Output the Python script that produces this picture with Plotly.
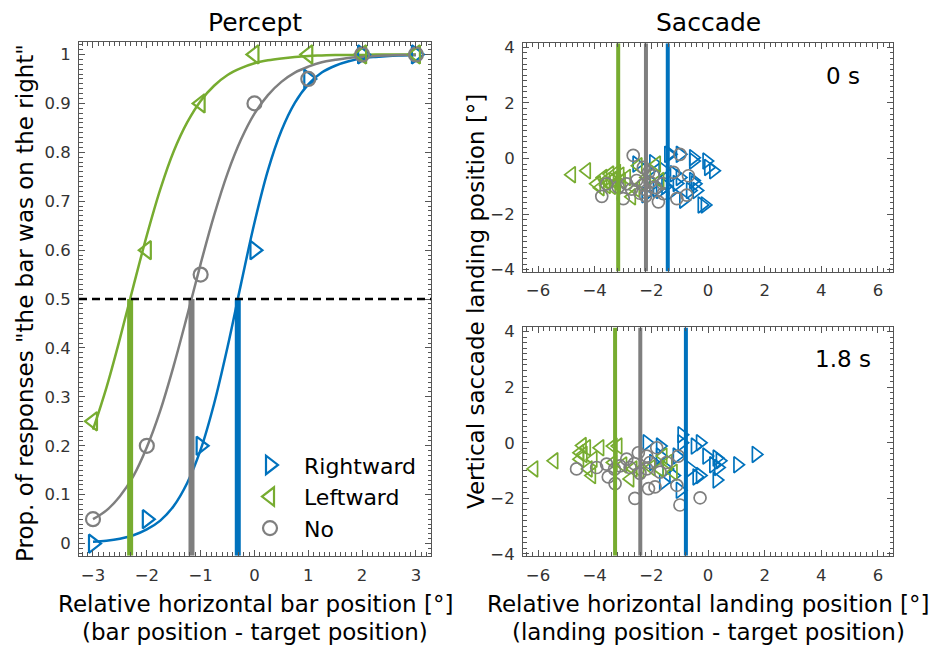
import plotly.graph_objects as go

# ---------------- data ----------------
bar_positions = [-3, -2, -1, 0, 1, 2, 3]
resp_rightward = [0.0, 0.05, 0.2, 0.6, 0.95, 1.0, 1.0]
resp_leftward = [0.25, 0.6, 0.9, 1.0, 1.0, 1.0, 1.0]
resp_no = [0.05, 0.2, 0.55, 0.9, 0.95, 1.0, 1.0]

fit_x = [-3, -2.75, -2.5, -2.25, -2, -1.75, -1.5, -1.25, -1, -0.75, -0.5, -0.25, 0,
         0.25, 0.5, 0.75, 1, 1.25, 1.5, 1.75, 2, 2.25, 2.5, 2.75, 3]
fit_rightward = [0.004, 0.006, 0.010, 0.017, 0.029, 0.047, 0.077, 0.124, 0.192, 0.286, 0.402, 0.531, 0.656,
                 0.763, 0.844, 0.901, 0.939, 0.963, 0.977, 0.986, 0.992, 0.995, 0.997, 0.998, 0.999]
fit_leftward = [0.233, 0.319, 0.419, 0.526, 0.630, 0.724, 0.802, 0.861, 0.905, 0.936, 0.958, 0.972, 0.982,
                0.988, 0.992, 0.995, 0.997, 0.998, 0.999, 0.999, 0.999, 1.0, 1.0, 1.0, 1.0]
fit_no = [0.05, 0.068, 0.097, 0.138, 0.197, 0.272, 0.364, 0.466, 0.572, 0.671, 0.757, 0.826, 0.879,
          0.917, 0.944, 0.963, 0.975, 0.984, 0.989, 0.993, 0.995, 0.997, 0.998, 0.999, 0.999]

pse_rightward = -0.31
pse_leftward = -2.31
pse_no = -1.17

# Saccade, 0 s
s0_right_x = [-1.34, -0.99, -0.52, -0.52, -0.05, 0.01, 0.19, -0.99, -0.52, -0.46, -0.40, -0.63, -0.11, -0.22,
              -2.52, -1.93, -1.40, -1.93, -1.69, -0.87, -2.10, -1.50, -1.30, -1.80, -2.20, -1.10, -1.60, -1.20]
s0_right_y = [0.15, 0.15, 0.03, -0.09, -0.09, -0.32, -0.44, -0.68, -0.79, -0.91, -1.15, -1.15, -1.67, -1.67,
              -0.20, -0.15, 0.15, -0.91, -1.15, -1.50, -0.45, -1.00, -1.20, -1.10, -1.30, -0.90, -0.40, -0.55]
s0_left_x = [-4.81, -4.28, -3.93, -3.70, -3.46, -3.22, -3.58, -3.22, -2.87, -2.69, -2.46, -1.81, -2.16, -1.69,
             -3.35, -3.05, -3.80, -2.55, -3.10, -3.60, -3.40, -2.30]
s0_left_y = [-0.58, -0.44, -0.91, -0.68, -0.56, -0.50, -0.97, -0.91, -0.68, -1.38, -0.26, -0.20, -0.68, -0.79,
             -0.75, -0.80, -1.05, -1.10, -0.60, -0.80, -1.00, -0.90]
s0_no_x = [-2.64, -0.99, -3.75, -3.58, -2.99, -1.75, -1.10, -0.69, -0.75, -1.22, -1.58, -1.93, -2.52, -2.87,
           -3.17, -2.28, -2.16, -2.30, -2.05, -2.40, -1.85, -2.70, -2.20, -1.60, -2.10]
s0_no_y = [0.11, 0.15, -1.36, -0.91, -1.44, -1.56, -1.44, -0.62, -1.32, -0.50, -1.26, -0.62, -0.79, -0.91,
           -1.03, -0.32, -1.15, -0.95, -0.85, -1.25, -1.05, -1.10, -1.35, -0.90, -0.50]
s0_mean_rightward = -1.42
s0_mean_leftward = -3.17
s0_mean_no = -2.19

# Saccade, 1.8 s
s18_right_x = [1.69, 1.04, 0.31, 0.36, 0.31, 0.19, 0.42, -0.05, -0.28, -0.93, -0.93, -0.46, -0.63, -0.40,
               -0.99, -1.69, -2.16, -1.69, -1.46, -1.58, -1.22, -1.93, -1.10, -0.28]
s18_right_y = [-0.42, -0.79, -0.55, -0.89, -1.34, -0.79, -0.65, -0.48, 0.0, 0.29, 0.0, -0.12, -0.94, -1.23,
               -1.71, -0.12, 0.0, -0.48, -0.94, -1.42, -1.18, -0.71, -0.48, -1.18]
s18_left_x = [-6.14, -5.43, -4.43, -4.28, -4.52, -4.40, -3.81, -3.17, -4.05, -4.52, -4.10, -4.22, -3.34, -2.75,
              -2.64, -1.58, -1.40, -1.22, -1.70, -3.34, -2.40, -2.00, -3.00]
s18_left_y = [-0.94, -0.65, -0.10, -0.18, -0.36, -0.42, -0.18, -0.12, -0.59, -0.59, -1.18, -0.94, -0.71, -1.30,
              -0.94, -0.48, -0.71, -1.06, -0.94, -0.12, -1.00, -0.90, -0.80]
s18_no_x = [-4.64, -3.93, -3.52, -3.28, -3.58, -3.11, -2.87, -2.58, -2.46, -2.16, -2.05, -2.10, -1.87, -1.81,
            -1.69, -1.05, -1.10, -0.99, -0.28, -1.46, -2.75, -2.16, -2.40, -3.30, -2.60]
s18_no_y = [-0.94, -0.89, -1.23, -1.47, -0.77, -0.83, -0.59, -2.00, -0.36, -0.48, -0.71, -1.65, -1.59, -0.18,
            -1.06, -0.48, -1.53, -2.24, -1.98, -0.71, -0.89, -0.94, -1.10, -0.95, -0.75]
s18_mean_rightward = -0.78
s18_mean_leftward = -3.28
s18_mean_no = -2.39

# ---------------- style ----------------
BLUE = "#0072BD"
GREEN = "#77AC30"
GRAY = "#7F7F7F"
FONT = "DejaVu Sans"
W, H = 933, 655

left_xrange = [-3.26, 3.28]
left_yrange = [-0.025, 1.025]
right_xrange = [-6.53, 6.53]
right_yrange = [-4.07, 4.15]

fig = go.Figure()

# --- left panel: fits ---
for yv, col in [(fit_rightward, BLUE), (fit_leftward, GREEN), (fit_no, GRAY)]:
    fig.add_trace(go.Scatter(x=fit_x, y=yv, mode="lines", line=dict(color=col, width=2.5, shape="spline"),
                             showlegend=False, hoverinfo="skip", xaxis="x", yaxis="y"))
# PSE lines
for pse, col in [(pse_leftward, GREEN), (pse_no, GRAY), (pse_rightward, BLUE)]:
    fig.add_trace(go.Scatter(x=[pse, pse], y=[left_yrange[0], 0.5], mode="lines",
                             line=dict(color=col, width=6), showlegend=False, hoverinfo="skip",
                             xaxis="x", yaxis="y"))
# data markers
for yv, col, sym, name, sz in [(resp_rightward, BLUE, "triangle-right-open", "Rightward", 16),
                               (resp_leftward, GREEN, "triangle-left-open", "Leftward", 16),
                               (resp_no, GRAY, "circle-open", "No", 14)]:
    fig.add_trace(go.Scatter(x=bar_positions, y=yv, mode="markers", name=name, legendgroup=name,
                             marker=dict(symbol=sym, size=sz, color=col, line=dict(color=col, width=2.2)),
                             xaxis="x", yaxis="y"))

# --- right panels ---
def add_saccade(ax, ay, rx, ry, lx, ly, nx, ny, mr, ml, mn):
    for xs, ys, col, sym, sz in [(rx, ry, BLUE, "triangle-right-open", 14),
                                 (lx, ly, GREEN, "triangle-left-open", 14),
                                 (nx, ny, GRAY, "circle-open", 12)]:
        fig.add_trace(go.Scatter(x=xs, y=ys, mode="markers",
                                 marker=dict(symbol=sym, size=sz, color=col, line=dict(color=col, width=1.7)),
                                 showlegend=False, xaxis=ax, yaxis=ay))
    for m, col in [(ml, GREEN), (mn, GRAY), (mr, BLUE)]:
        fig.add_trace(go.Scatter(x=[m, m], y=right_yrange, mode="lines", line=dict(color=col, width=4),
                                 showlegend=False, hoverinfo="skip", xaxis=ax, yaxis=ay))

add_saccade("x2", "y2", s0_right_x, s0_right_y, s0_left_x, s0_left_y, s0_no_x, s0_no_y,
            s0_mean_rightward, s0_mean_leftward, s0_mean_no)
add_saccade("x3", "y3", s18_right_x, s18_right_y, s18_left_x, s18_left_y, s18_no_x, s18_no_y,
            s18_mean_rightward, s18_mean_leftward, s18_mean_no)

# dashed 0.5 line
fig.add_shape(type="line", xref="x domain", yref="y", x0=0, x1=1, y0=0.5, y1=0.5,
              line=dict(color="black", width=2.5, dash="8px,5px"))


def axis_style(rng, dtick, minor_dtick, domain, anchor):
    return dict(range=rng, tickmode="linear", tick0=0, dtick=dtick, domain=domain, anchor=anchor,
                showgrid=False, zeroline=False,
                showline=True, linecolor="#555555", linewidth=1, mirror="allticks",
                ticks="inside", ticklen=6, tickcolor="#555555", tickwidth=1,
                minor=dict(ticks="inside", dtick=minor_dtick, tick0=0, ticklen=3.5, tickcolor="#555555",
                           tickwidth=1, showgrid=False),
                tickfont=dict(family=FONT, size=16.5, color="#333333"), ticklabelstandoff=4)


def px_x(a, b):
    return [a / W, b / W]


def px_y(top, bottom):
    return [1 - bottom / H, 1 - top / H]

layout = dict(
    width=W, height=H, margin=dict(l=0, r=0, t=0, b=0), plot_bgcolor="white", paper_bgcolor="white",
    font=dict(family=FONT, color="black"),
    xaxis=axis_style(left_xrange, 1, 0.1, px_x(79, 431), "y"),
    yaxis=axis_style(left_yrange, 0.1, 0.01, px_y(38, 562), "x"),
    xaxis2=axis_style(right_xrange, 2, 0.2, px_x(523, 893), "y2"),
    yaxis2=axis_style(right_yrange, 2, 0.2, px_y(39, 272), "x2"),
    xaxis3=axis_style(right_xrange, 2, 0.2, px_x(523, 893), "y3"),
    yaxis3=axis_style(right_yrange, 2, 0.2, px_y(329, 562), "x3"),
    legend=dict(x=236 / W, y=1 - 448 / H, xanchor="left", yanchor="top", bgcolor="rgba(0,0,0,0)",
                font=dict(family=FONT, size=22, color="black"), tracegroupgap=0, itemwidth=58),
    showlegend=True,
)
fig.update_layout(**layout)

annots = [
    dict(text="Percept", x=255 / W, y=1 - 18 / H, size=25),
    dict(text="Saccade", x=708 / W, y=1 - 18 / H, size=25),
    dict(text="0 s", x=843 / W, y=1 - 72 / H, size=23),
    dict(text="1.8 s", x=843 / W, y=1 - 361 / H, size=23),
    dict(text="Relative horizontal bar position [°]", x=255 / W, y=1 - 611 / H, size=23),
    dict(text="(bar position - target position)", x=255 / W, y=1 - 640 / H, size=23),
    dict(text="Relative horizontal landing position [°]", x=708 / W, y=1 - 611 / H, size=23),
    dict(text="(landing position - target position)", x=708 / W, y=1 - 640 / H, size=23),
]
for a in annots:
    fig.add_annotation(text=a["text"], x=a["x"], y=a["y"], xref="paper", yref="paper", showarrow=False,
                       xanchor="center", yanchor="middle", font=dict(family=FONT, size=a["size"], color="black"))
fig.add_annotation(text='Prop. of responses "the bar was on the right"', x=25 / W, y=1 - 304 / H,
                   xref="paper", yref="paper", showarrow=False, textangle=-90, xanchor="center",
                   yanchor="middle", font=dict(family=FONT, size=23, color="black"))
fig.add_annotation(text="Vertical saccade landing position [°]", x=476 / W, y=1 - 303 / H,
                   xref="paper", yref="paper", showarrow=False, textangle=-90, xanchor="center",
                   yanchor="middle", font=dict(family=FONT, size=23, color="black"))

fig.write_html("out.html", config={"displayModeBar": False},
               post_script="document.body.style.margin='0px';")
